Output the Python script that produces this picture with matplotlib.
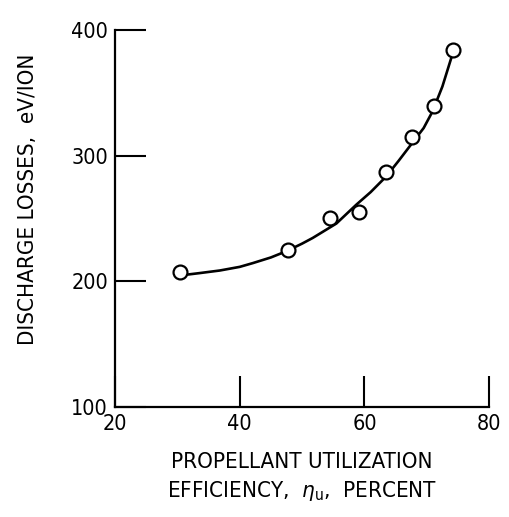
import matplotlib.pyplot as plt

# measured points (open circles)
eff = [30.4, 47.8, 54.4, 59.2, 63.4, 67.6, 71.2, 74.2]
loss = [207.6, 225, 250.4, 254.8, 287, 314.6, 339.3, 383.7]

# faired curve
curve_x = [31.0, 33.5, 36.8, 40.0, 42.1, 45.0, 47.5, 50.0, 51.7, 55.5,
           58.7, 61.0, 63.5, 65.5, 67.5, 69.5, 70.9, 72.5, 74.1]
curve_y = [205, 206.5, 208.6, 211.5, 214.5, 219, 224, 230, 234.5, 246,
           261, 271, 283.5, 296, 309, 322, 335, 355, 380.5]

xticks = [20, 40, 60, 80]
yticks = [100, 200, 300, 400]

plt.rcParams['font.family'] = ['DejaVu Sans']
plt.rcParams['font.stretch'] = 'condensed'
plt.rcParams['mathtext.fontset'] = 'dejavusans'

fig = plt.figure(figsize=(5.09, 5.17), dpi=100)
ax = fig.add_axes([0.226, 0.2128, 0.735, 0.7292])

ax.plot(curve_x, curve_y, color='black', lw=1.9, zorder=2)
ax.plot(eff, loss, 'o', ms=10, mfc='white', mec='black', mew=1.6, zorder=3)

ax.set_xlim(20, 80)
ax.set_ylim(100, 400)
ax.set_xticks(xticks)
ax.set_yticks(yticks)
ax.spines['top'].set_visible(False)
ax.spines['right'].set_visible(False)
for s in ['left', 'bottom']:
    ax.spines[s].set_linewidth(1.6)
ax.tick_params(direction='in', length=22, width=1.5, labelsize=15.5)
ax.tick_params(axis='y', pad=5)
ax.tick_params(axis='x', pad=5)

ax.set_xlabel('PROPELLANT UTILIZATION\nEFFICIENCY,  $\\eta_{\\rm u}$,  PERCENT',
              fontsize=16, linespacing=1.4, labelpad=13)
ax.set_ylabel('DISCHARGE LOSSES,  eV/ION', fontsize=16)
ax.yaxis.set_label_coords(-0.206, 0.55)

fig.savefig('out.png', dpi=100)
